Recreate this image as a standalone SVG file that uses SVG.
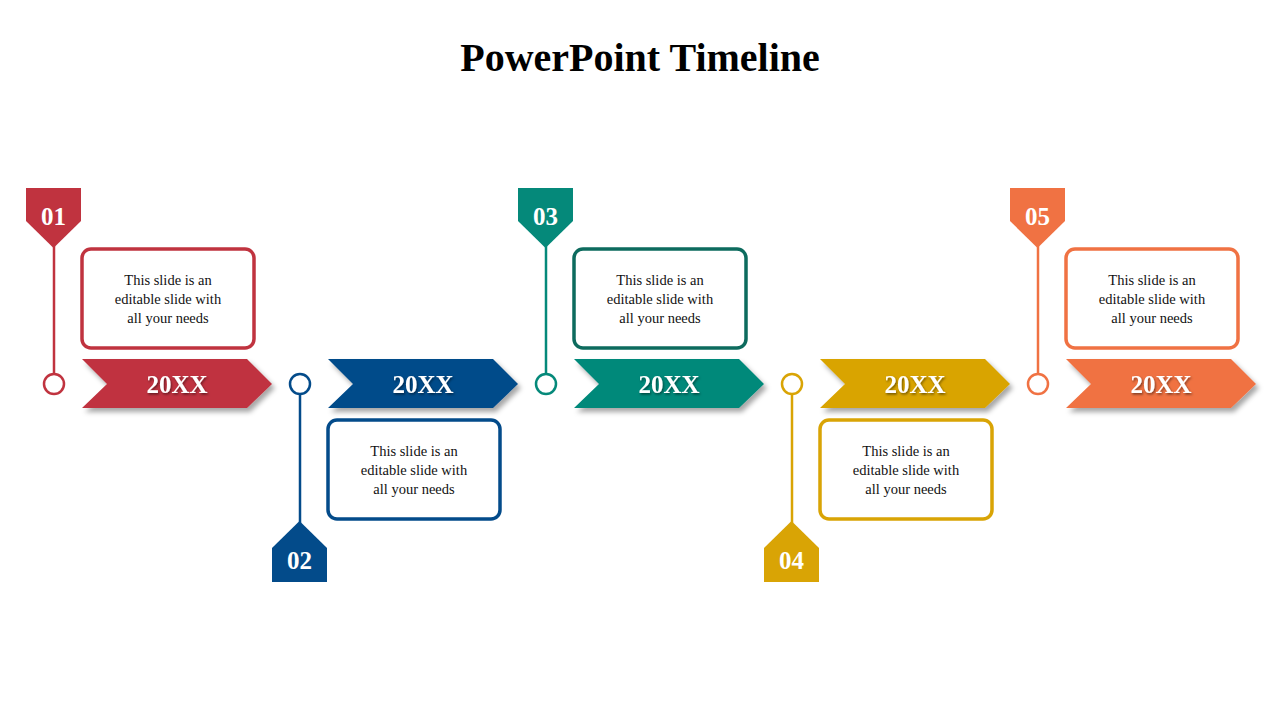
<svg xmlns="http://www.w3.org/2000/svg" width="1280" height="720" viewBox="0 0 1280 720">
<defs>
<style>
.t{font-family:"Liberation Serif","DejaVu Serif",serif;}
.title{font-size:40px;font-weight:bold;fill:#000;}
.yr{font-size:25px;font-weight:bold;fill:#fff;}
.num{font-size:25px;font-weight:bold;fill:#fff;}
.body{font-size:14.5px;fill:#111;}
.box{fill:#fff;stroke-width:3.5;}
.ring{fill:#fff;stroke-width:2.5;}
</style>
<filter id="sh" x="-10%" y="-10%" width="130%" height="140%"><feDropShadow dx="3" dy="4" stdDeviation="2.5" flood-color="#000" flood-opacity="0.35"/></filter>
<filter id="ts"><feDropShadow dx="1" dy="1.5" stdDeviation="1" flood-color="#000" flood-opacity="0.5"/></filter>
<path id="chev" d="M0,0 H165 L190,25 L165,49 H0 L25,25 Z"/>
</defs>
<rect width="1280" height="720" fill="#fff"/>
<text class="t title" x="640" y="71" text-anchor="middle">PowerPoint Timeline</text>
<g id="connectors">
<line x1="54" y1="246" x2="54" y2="374" stroke="#C0333F" stroke-width="2.5"/>
<line x1="300" y1="394" x2="300" y2="523" stroke="#034B8A" stroke-width="2.5"/>
<line x1="546" y1="246" x2="546" y2="374" stroke="#05897A" stroke-width="2.5"/>
<line x1="792" y1="394" x2="792" y2="523" stroke="#D9A405" stroke-width="2.5"/>
<line x1="1038" y1="246" x2="1038" y2="374" stroke="#F07243" stroke-width="2.5"/>
</g>
<g id="node1">
<path d="M26,188 H81 V221 L53.5,248 L26,221 Z" fill="#C0333F"/>
<text class="t num" x="53.5" y="225" text-anchor="middle">01</text>
<circle class="ring" cx="54" cy="384" r="10" stroke="#C0333F"/>
<use href="#chev" x="82" y="359" fill="#C0333F" filter="url(#sh)"/>
<text class="t yr" x="177" y="393" text-anchor="middle" filter="url(#ts)">20XX</text>
<rect class="box" x="82" y="249" width="172" height="99" rx="9" stroke="#C0333F"/>
<text class="t body" text-anchor="middle"><tspan x="168" y="285">This slide is an</tspan><tspan x="168" y="304">editable slide with</tspan><tspan x="168" y="323">all your needs</tspan></text>
</g>
<g id="node2">
<path d="M272,582 H327 V548 L299.5,521 L272,548 Z" fill="#034B8A"/>
<text class="t num" x="299.5" y="569" text-anchor="middle">02</text>
<circle class="ring" cx="300" cy="384" r="10" stroke="#034B8A"/>
<use href="#chev" x="328" y="359" fill="#034B8A" filter="url(#sh)"/>
<text class="t yr" x="423" y="393" text-anchor="middle" filter="url(#ts)">20XX</text>
<rect class="box" x="328" y="420" width="172" height="99" rx="9" stroke="#034B8A"/>
<text class="t body" text-anchor="middle"><tspan x="414" y="456">This slide is an</tspan><tspan x="414" y="475">editable slide with</tspan><tspan x="414" y="494">all your needs</tspan></text>
</g>
<g id="node3">
<path d="M518,188 H573 V221 L545.5,248 L518,221 Z" fill="#05897A"/>
<text class="t num" x="545.5" y="225" text-anchor="middle">03</text>
<circle class="ring" cx="546" cy="384" r="10" stroke="#05897A"/>
<use href="#chev" x="574" y="359" fill="#05897A" filter="url(#sh)"/>
<text class="t yr" x="669" y="393" text-anchor="middle" filter="url(#ts)">20XX</text>
<rect class="box" x="574" y="249" width="172" height="99" rx="9" stroke="#0D6B5E"/>
<text class="t body" text-anchor="middle"><tspan x="660" y="285">This slide is an</tspan><tspan x="660" y="304">editable slide with</tspan><tspan x="660" y="323">all your needs</tspan></text>
</g>
<g id="node4">
<path d="M764,582 H819 V548 L791.5,521 L764,548 Z" fill="#D9A405"/>
<text class="t num" x="791.5" y="569" text-anchor="middle">04</text>
<circle class="ring" cx="792" cy="384" r="10" stroke="#D9A405"/>
<use href="#chev" x="820" y="359" fill="#D9A405" filter="url(#sh)"/>
<text class="t yr" x="915" y="393" text-anchor="middle" filter="url(#ts)">20XX</text>
<rect class="box" x="820" y="420" width="172" height="99" rx="9" stroke="#D9A405"/>
<text class="t body" text-anchor="middle"><tspan x="906" y="456">This slide is an</tspan><tspan x="906" y="475">editable slide with</tspan><tspan x="906" y="494">all your needs</tspan></text>
</g>
<g id="node5">
<path d="M1010,188 H1065 V221 L1037.5,248 L1010,221 Z" fill="#F07243"/>
<text class="t num" x="1037.5" y="225" text-anchor="middle">05</text>
<circle class="ring" cx="1038" cy="384" r="10" stroke="#F07243"/>
<use href="#chev" x="1066" y="359" fill="#F07243" filter="url(#sh)"/>
<text class="t yr" x="1161" y="393" text-anchor="middle" filter="url(#ts)">20XX</text>
<rect class="box" x="1066" y="249" width="172" height="99" rx="9" stroke="#F07243"/>
<text class="t body" text-anchor="middle"><tspan x="1152" y="285">This slide is an</tspan><tspan x="1152" y="304">editable slide with</tspan><tspan x="1152" y="323">all your needs</tspan></text>
</g>
</svg>
